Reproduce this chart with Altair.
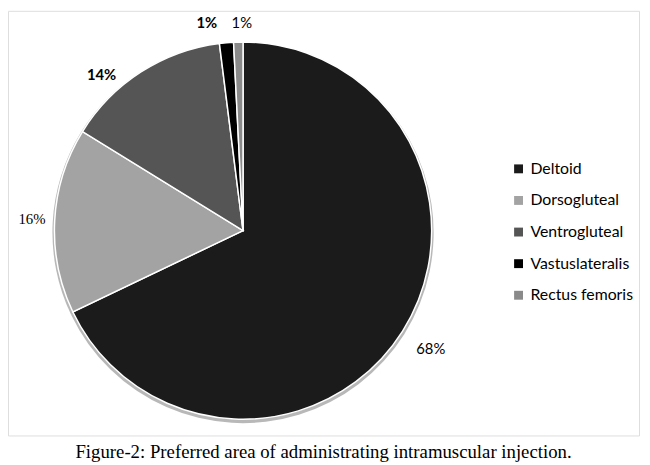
import altair as alt
import pandas as pd

# ---- data ----
sites = ["Deltoid", "Dorsogluteal", "Ventrogluteal", "Vastuslateralis", "Rectus femoris"]
shares = [67.9, 15.9, 14.2, 1.2, 0.8]
labels = ["68%", "16%", "14%", "1%", "1%"]
colors = ["#1b1b1b", "#a3a3a3", "#555555", "#000000", "#8a8a8a"]
caption = "Figure-2: Preferred area of administrating intramuscular injection."

df = pd.DataFrame({"site": sites, "share": shares, "label": labels,
                   "idx": list(range(len(sites)))})

CX, CY, R = 238, 222.5, 191

base = alt.Chart(df).encode(
    theta=alt.Theta("share:Q", stack=True),
    order=alt.Order("idx:Q"),
    x=alt.value(CX),
    y=alt.value(CY),
)

shadow = base.mark_arc(radius=R + 2, color="#9a9a9a", opacity=0.7).encode(
    y=alt.value(CY + 2)
)

pie = base.mark_arc(radius=R, stroke="white", strokeWidth=1.5).encode(
    color=alt.Color(
        "site:N",
        scale=alt.Scale(domain=sites, range=colors),
        legend=alt.Legend(
            title=None, orient="none", legendX=509, legendY=152,
            symbolType="square", symbolSize=81, symbolStrokeWidth=0,
            labelFont="Lato", labelFontSize=16, labelColor="black",
            rowPadding=16, labelOffset=4,
        ),
    )
)

# per-label placement styles (radius from centre, nudges, font)
label_styles = [
    dict(radius=220, dx=4, dy=3, font="Lato", fontWeight="normal"),
    dict(radius=214, dx=0, dy=0, font="Liberation Serif", fontWeight="normal"),
    dict(radius=213, dx=-28, dy=22, font="Lato", fontWeight="bold"),
    dict(radius=212, dx=-18, dy=1, font="Lato", fontWeight="bold"),
    dict(radius=210, dx=4, dy=-0.5, font="Lato", fontWeight="normal"),
]

text_layers = []
for i, st in enumerate(label_styles):
    text_layers.append(
        base.mark_text(fontSize=15, color="black", **st).encode(
            text=alt.condition(alt.datum.idx == i, "label:N", alt.value(""))
        )
    )

chart = alt.layer(shadow, pie, *text_layers).properties(
    width=639,
    height=430,
    autosize="none",
    padding={"left": 0, "top": 0, "right": 3, "bottom": 27},
    title=alt.TitleParams(
        caption, orient="bottom", anchor="middle", font="Liberation Serif",
        fontSize=19, fontWeight="normal", color="black", baseline="middle",
        offset=17,
    ),
).configure_view(stroke="black", strokeWidth=2, fill="white").configure(
    background="white"
)

chart.save("out.html", embed_options={"renderer": "svg", "actions": False})
